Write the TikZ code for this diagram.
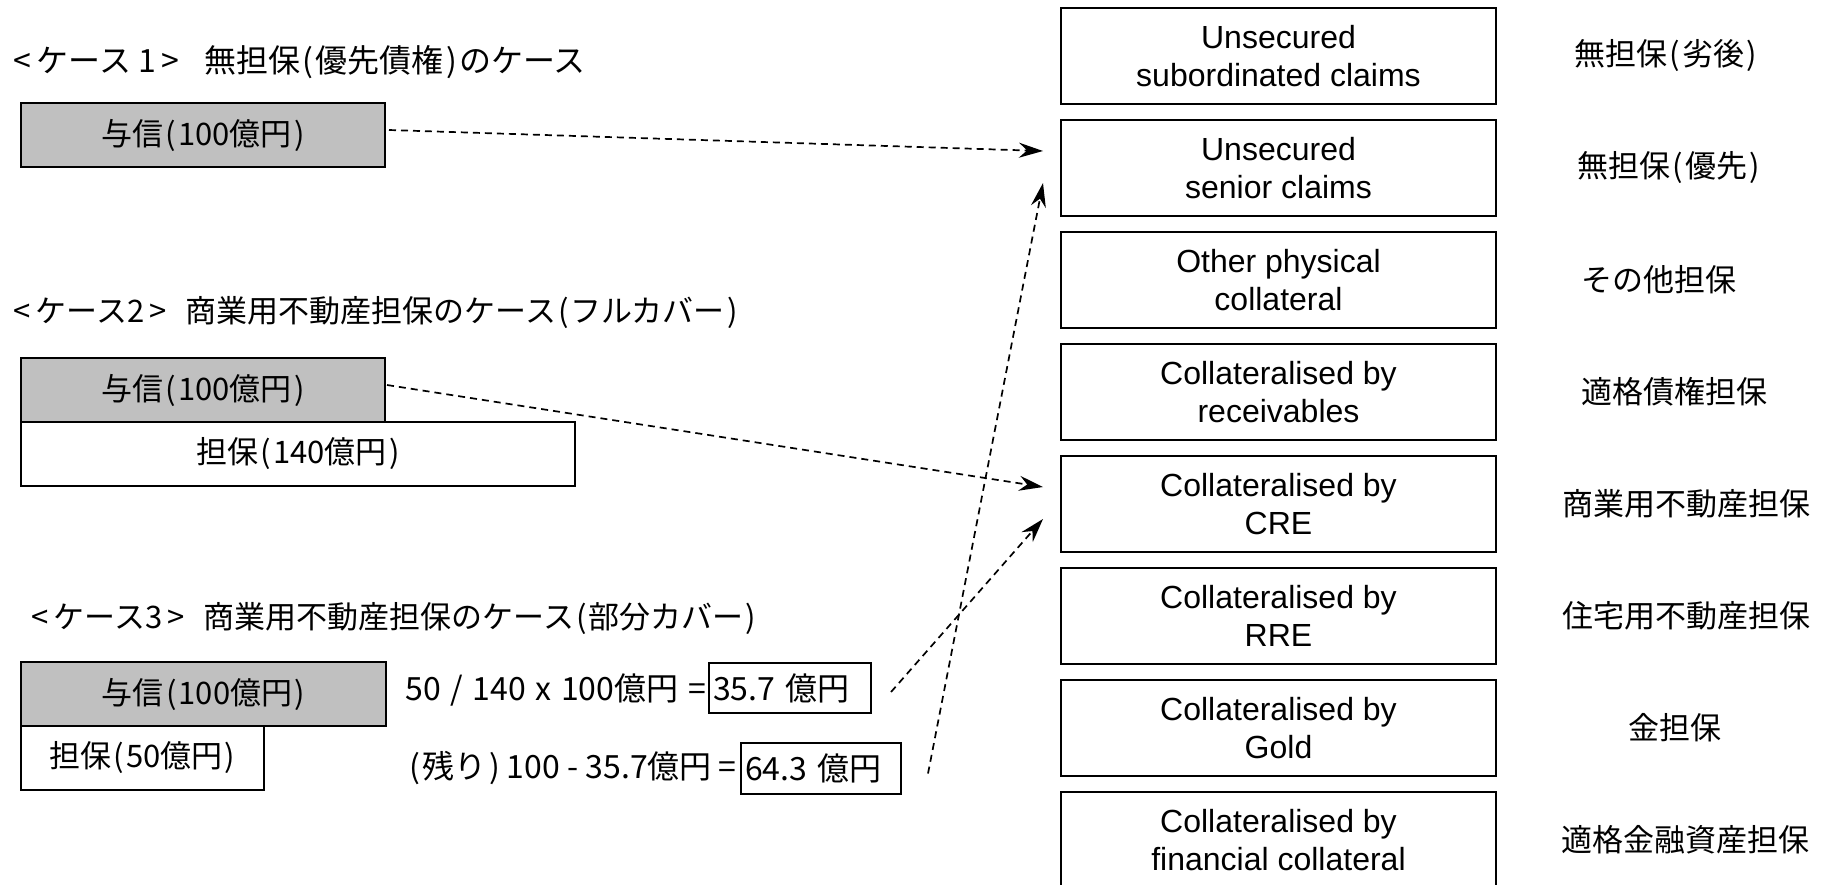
\documentclass[tikz,border=0pt]{standalone}
\usepackage{fontspec}
\setmainfont{Liberation Sans}
\newfontfamily\jp{Noto Sans CJK JP}
\usetikzlibrary{arrows.meta,calc}
\definecolor{boxgray}{RGB}{192,192,192}
\newcommand\jlp{\hspace{0.07em}(\hspace{0.07em}}
\newcommand\jrp{\hspace{0.07em})\hspace{0.07em}}
\newcommand\wsp{\hspace{0.3em}}
\begin{document}
\begin{tikzpicture}[x=1pt,y=-1pt,
  rbox/.style={draw, line width=1.8pt, minimum width=435pt, minimum height=96pt, inner sep=0pt, outer sep=0pt, align=center, anchor=north west, font=\fontsize{32}{38}\selectfont},
  lbl/.style={font=\jp\fontsize{31}{37}\selectfont},
  jt/.style={font=\jp\fontsize{32}{38}\selectfont},
  jtt/.style={font=\jp\fontsize{31}{37}\selectfont},
  jb/.style={font=\jp\fontsize{31}{37}\selectfont},
  gbox/.style={draw, fill=boxgray, line width=1.8pt, minimum height=64pt, inner sep=0pt, outer sep=0pt, anchor=north west, jb},
  wbox/.style={draw, fill=white, line width=1.8pt, minimum height=64pt, inner sep=0pt, outer sep=0pt, anchor=north west, jb},
  fbox/.style={draw, line width=1.6pt, minimum height=50pt, inner xsep=4pt, inner ysep=0pt, outer sep=0pt, anchor=west, align=left, jt},
  dasharrow/.style={line width=1.7pt, dash pattern=on 7pt off 5pt, -{Stealth[length=24pt,width=15pt,inset=8pt]}},
]
\useasboundingbox (0,0) rectangle (1835,884);

% right column
\node[rbox] (r1) at (1061,8)   {Unsecured\\subordinated claims};
\node[rbox] (r2) at (1061,120) {Unsecured\\senior claims};
\node[rbox] (r3) at (1061,232) {Other physical\\collateral};
\node[rbox] (r4) at (1061,344) {Collateralised by\\receivables};
\node[rbox] (r5) at (1061,456) {Collateralised by\\CRE};
\node[rbox] (r6) at (1061,568) {Collateralised by\\RRE};
\node[rbox] (r7) at (1061,680) {Collateralised by\\Gold};
\node[rbox] (r8) at (1061,792) {Collateralised by\\financial collateral};

\node[lbl] (l1) at (1666,56)  {無担保\jlp 劣後\jrp};
\node[lbl] (l2) at (1669,168) {無担保\jlp 優先\jrp};
\node[lbl] (l3) at (1659,280) {その他担保};
\node[lbl] (l4) at (1674,392) {適格債権担保};
\node[lbl] (l5) at (1686,504) {商業用不動産担保};
\node[lbl] (l6) at (1686,616) {住宅用不動産担保};
\node[lbl] (l7) at (1675,728) {金担保};
\node[lbl] (l8) at (1685,840) {適格金融資産担保};

% case 1
\node[jt, anchor=west] (t1) at (10,62) {<\,ケース 1\,>\hspace{0.8em}無担保\jlp 優先債権\jrp のケース};
\node[gbox, minimum width=364pt] (c1) at (21,103) {与信\jlp 100億円\jrp};

% case 2
\node[jtt, anchor=west] (t2) at (10,312) {<\,ケース2\,>\hspace{0.6em}商業用不動産担保のケース\jlp フルカバー\jrp};
\node[wbox, minimum width=554pt] (c2b) at (21,422) {担保\jlp 140億円\jrp};
\node[gbox, minimum width=364pt] (c2a) at (21,358) {与信\jlp 100億円\jrp};

% case 3
\node[jtt, anchor=west] (t3) at (28,618) {<\,ケース3\,>\hspace{0.6em}商業用不動産担保のケース\jlp 部分カバー\jrp};
\node[wbox, minimum width=243pt] (c3b) at (21,726) {担保\jlp 50億円\jrp};
\node[gbox, minimum width=365pt] (c3a) at (21,662) {与信\jlp 100億円\jrp};

\node[jt, anchor=west] (f1) at (402,690) {50\wsp/\wsp140\wsp x\wsp 100億円\wsp=};
\node[fbox, text width=154pt] (b1) at (709,688) {35.7 億円};
\node[jt, anchor=west] (f2) at (404,768) {\jlp 残り\jrp\hspace{0.15em}100 - 35.7億円 =};
\node[fbox, text width=152pt, minimum height=51pt] (b2) at (741,768.5) {64.3 億円};

% arrows
\draw[dasharrow] ($(c1.east)+(4,-5)$) -- ($(r2.west)+(-18,-17)$);
\draw[dasharrow] ($(b2.east)+(27,5)$) -- ($(r2.west)+(-18,15)$);
\draw[dasharrow] ($(c2a.east)+(2,-5)$) -- ($(r5.west)+(-18,-17)$);
\draw[dasharrow] ($(b1.east)+(20,4)$) -- ($(r5.west)+(-18,15)$);
\end{tikzpicture}
\end{document}
